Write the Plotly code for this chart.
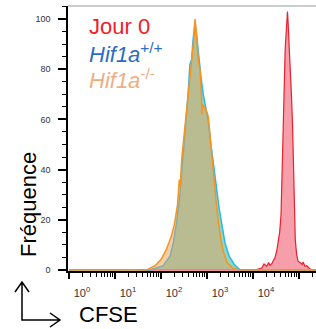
import plotly.graph_objects as go

# ---------------- data ----------------
# log10(CFSE) positions and frequency values for each histogram
ko_log = [0.0, 1.5, 1.69, 1.87, 2.01, 2.12, 2.23, 2.30, 2.36, 2.40, 2.42, 2.45, 2.52, 2.56, 2.62,
          2.65, 2.69, 2.72, 2.74, 2.78, 2.81, 2.85, 2.88, 2.89, 2.90, 2.93, 2.98, 3.03, 3.07,
          3.10, 3.15, 3.20, 3.25, 3.30, 3.36, 3.44, 3.57, 3.68, 5.4]
ko_val = [0, 0, 0, 1.7, 4.4, 8.3, 13.6, 19, 26, 36, 33, 44, 57, 64, 73,
          78.5, 86.5, 93, 100, 93, 83.7, 79.8, 69, 62, 66, 65, 64, 61, 53,
          44, 35, 27, 19, 12.3, 7, 3, 0.7, 0, 0]

wt_log = [0.0, 1.6, 1.76, 2.05, 2.20, 2.27, 2.34, 2.41, 2.48, 2.54, 2.59, 2.63, 2.67, 2.69,
          2.74, 2.79, 2.82, 2.87, 2.92, 2.98, 3.03, 3.08, 3.14, 3.20, 3.27, 3.33, 3.39,
          3.48, 3.59, 3.72, 5.4]
wt_val = [0, 0, 0, 1.7, 5.6, 11, 19, 29.5, 44, 57, 70, 82, 84, 90,
          99, 91, 85, 77, 70, 64, 59, 51, 42, 33, 24, 17.5, 11,
          5.6, 2.3, 0, 0]

d0_log = [1.5, 4.04, 4.19, 4.24, 4.30, 4.34, 4.37, 4.41, 4.44, 4.48, 4.52, 4.55, 4.58, 4.61,
          4.64, 4.66, 4.68, 4.70, 4.72, 4.74, 4.75, 4.76, 4.78, 4.80, 4.82, 4.84, 4.86,
          4.88, 4.90, 4.92, 4.95, 4.98, 5.02, 5.07, 5.09, 5.13, 5.17, 5.24, 5.30, 5.4]
d0_val = [0, 0, 0.8, 2.4, 1.5, 3, 1.8, 2.5, 3.7, 5, 8, 12, 15, 22,
          45, 63, 78, 88, 94, 101, 103, 100, 93, 86, 78, 68, 58,
          40, 20, 12, 6, 3.5, 3, 2.2, 3.2, 1.5, 1.7, 0.4, 0, 0]

x_tick_vals = [1, 10, 100, 1000, 10000, 100000]
x_tick_text = ["10<sup>0</sup>", "10<sup>1</sup>", "10<sup>2</sup>",
               "10<sup>3</sup>", "10<sup>4</sup>", "10<sup>5</sup>"]
y_tick_vals = [0, 20, 40, 60, 80, 100]

# ---------------- figure ----------------
FONT = "Liberation Sans, Arial, Helvetica, sans-serif"
fig = go.Figure()

fig.add_trace(go.Scatter(
    x=[10 ** v for v in d0_log], y=d0_val, mode="lines",
    line=dict(color="#e8202f", width=1.2), fill="tozeroy",
    fillcolor="rgba(240,95,115,0.6)", showlegend=False))
fig.add_trace(go.Scatter(
    x=[10 ** v for v in wt_log], y=wt_val, mode="lines",
    line=dict(color="#2bb8e8", width=1.5), fill="tozeroy",
    fillcolor="rgba(25,177,145,0.5)", showlegend=False))
fig.add_trace(go.Scatter(
    x=[10 ** v for v in ko_log], y=ko_val, mode="lines",
    line=dict(color="#f7931e", width=1.5), fill="tozeroy",
    fillcolor="rgba(230,160,90,0.5)", showlegend=False))

fig.update_layout(
    width=316, height=329,
    margin=dict(l=68, r=0, t=6, b=58),
    paper_bgcolor="white", plot_bgcolor="white",
    font=dict(family=FONT, color="#333"),
    xaxis=dict(
        type="log", range=[-0.02, 5.37],
        showgrid=False, zeroline=False,
        showline=True, linecolor="black", linewidth=1.5,
        tickmode="array", tickvals=x_tick_vals, ticktext=x_tick_text,
        ticks="outside", ticklen=6, tickwidth=2, tickcolor="black",
        minor=dict(ticks="outside", ticklen=4, tickwidth=1, tickcolor="black", dtick="D1"),
        tickfont=dict(size=11, color="#333"),
        ticklabelshift=13, ticklabelstandoff=5,
    ),
    yaxis=dict(
        range=[-0.4, 105.2],
        showgrid=False, zeroline=False,
        showline=True, linecolor="black", linewidth=1.5,
        tickmode="array", tickvals=y_tick_vals,
        ticks="outside", ticklen=8, tickwidth=2, tickcolor="black",
        minor=dict(ticks="outside", ticklen=4, tickwidth=1, tickcolor="black", dtick=5),
        tickfont=dict(size=9, color="#333"),
        ticklabelstandoff=6,
    ),
)

# top frame line
fig.add_shape(type="line", xref="paper", yref="paper", x0=0, x1=1, y0=1, y1=1,
              line=dict(color="#999", width=1))

# legend-like labels
def px(xp):
    return (xp - 68) / 248.0

def py(yp):
    return (271 - yp) / 265.0

labels = [("Jour 0", "#f0202a", 27),
          ("<i>Hif1a</i><sup>+/+</sup>", "#2b6cc4", 53),
          ("<i>Hif1a</i><sup>-/-</sup>", "#f0ae80", 79)]
for txt, col, yc in labels:
    fig.add_annotation(text=txt, x=px(87), y=py(yc), xref="paper", yref="paper",
                       xanchor="left", yanchor="middle", showarrow=False,
                       font=dict(size=22, color=col, family=FONT))

fig.add_annotation(text="Fréquence", x=px(28), y=py(205), xref="paper", yref="paper",
                   textangle=-90, showarrow=False, xanchor="center", yanchor="middle",
                   font=dict(size=22, color="black", family=FONT))
fig.add_annotation(text="CFSE", x=px(77), y=py(314), xref="paper", yref="paper",
                   showarrow=False, xanchor="left", yanchor="middle",
                   font=dict(size=22, color="black", family=FONT))

# axis arrows (decoration)
arrow_path = (f"M {px(22)},{py(282)} L {px(22)},{py(320)} L {px(60)},{py(320)} "
              f"M {px(15)},{py(292)} L {px(22)},{py(282)} L {px(29)},{py(292)} "
              f"M {px(50)},{py(313)} L {px(60)},{py(320)} L {px(50)},{py(327)}")
fig.add_shape(type="path", xref="paper", yref="paper", path=arrow_path,
              line=dict(color="black", width=1.5))

fig.write_html("out.html", config={"displayModeBar": False},
               post_script="document.body.style.margin='0px';")
